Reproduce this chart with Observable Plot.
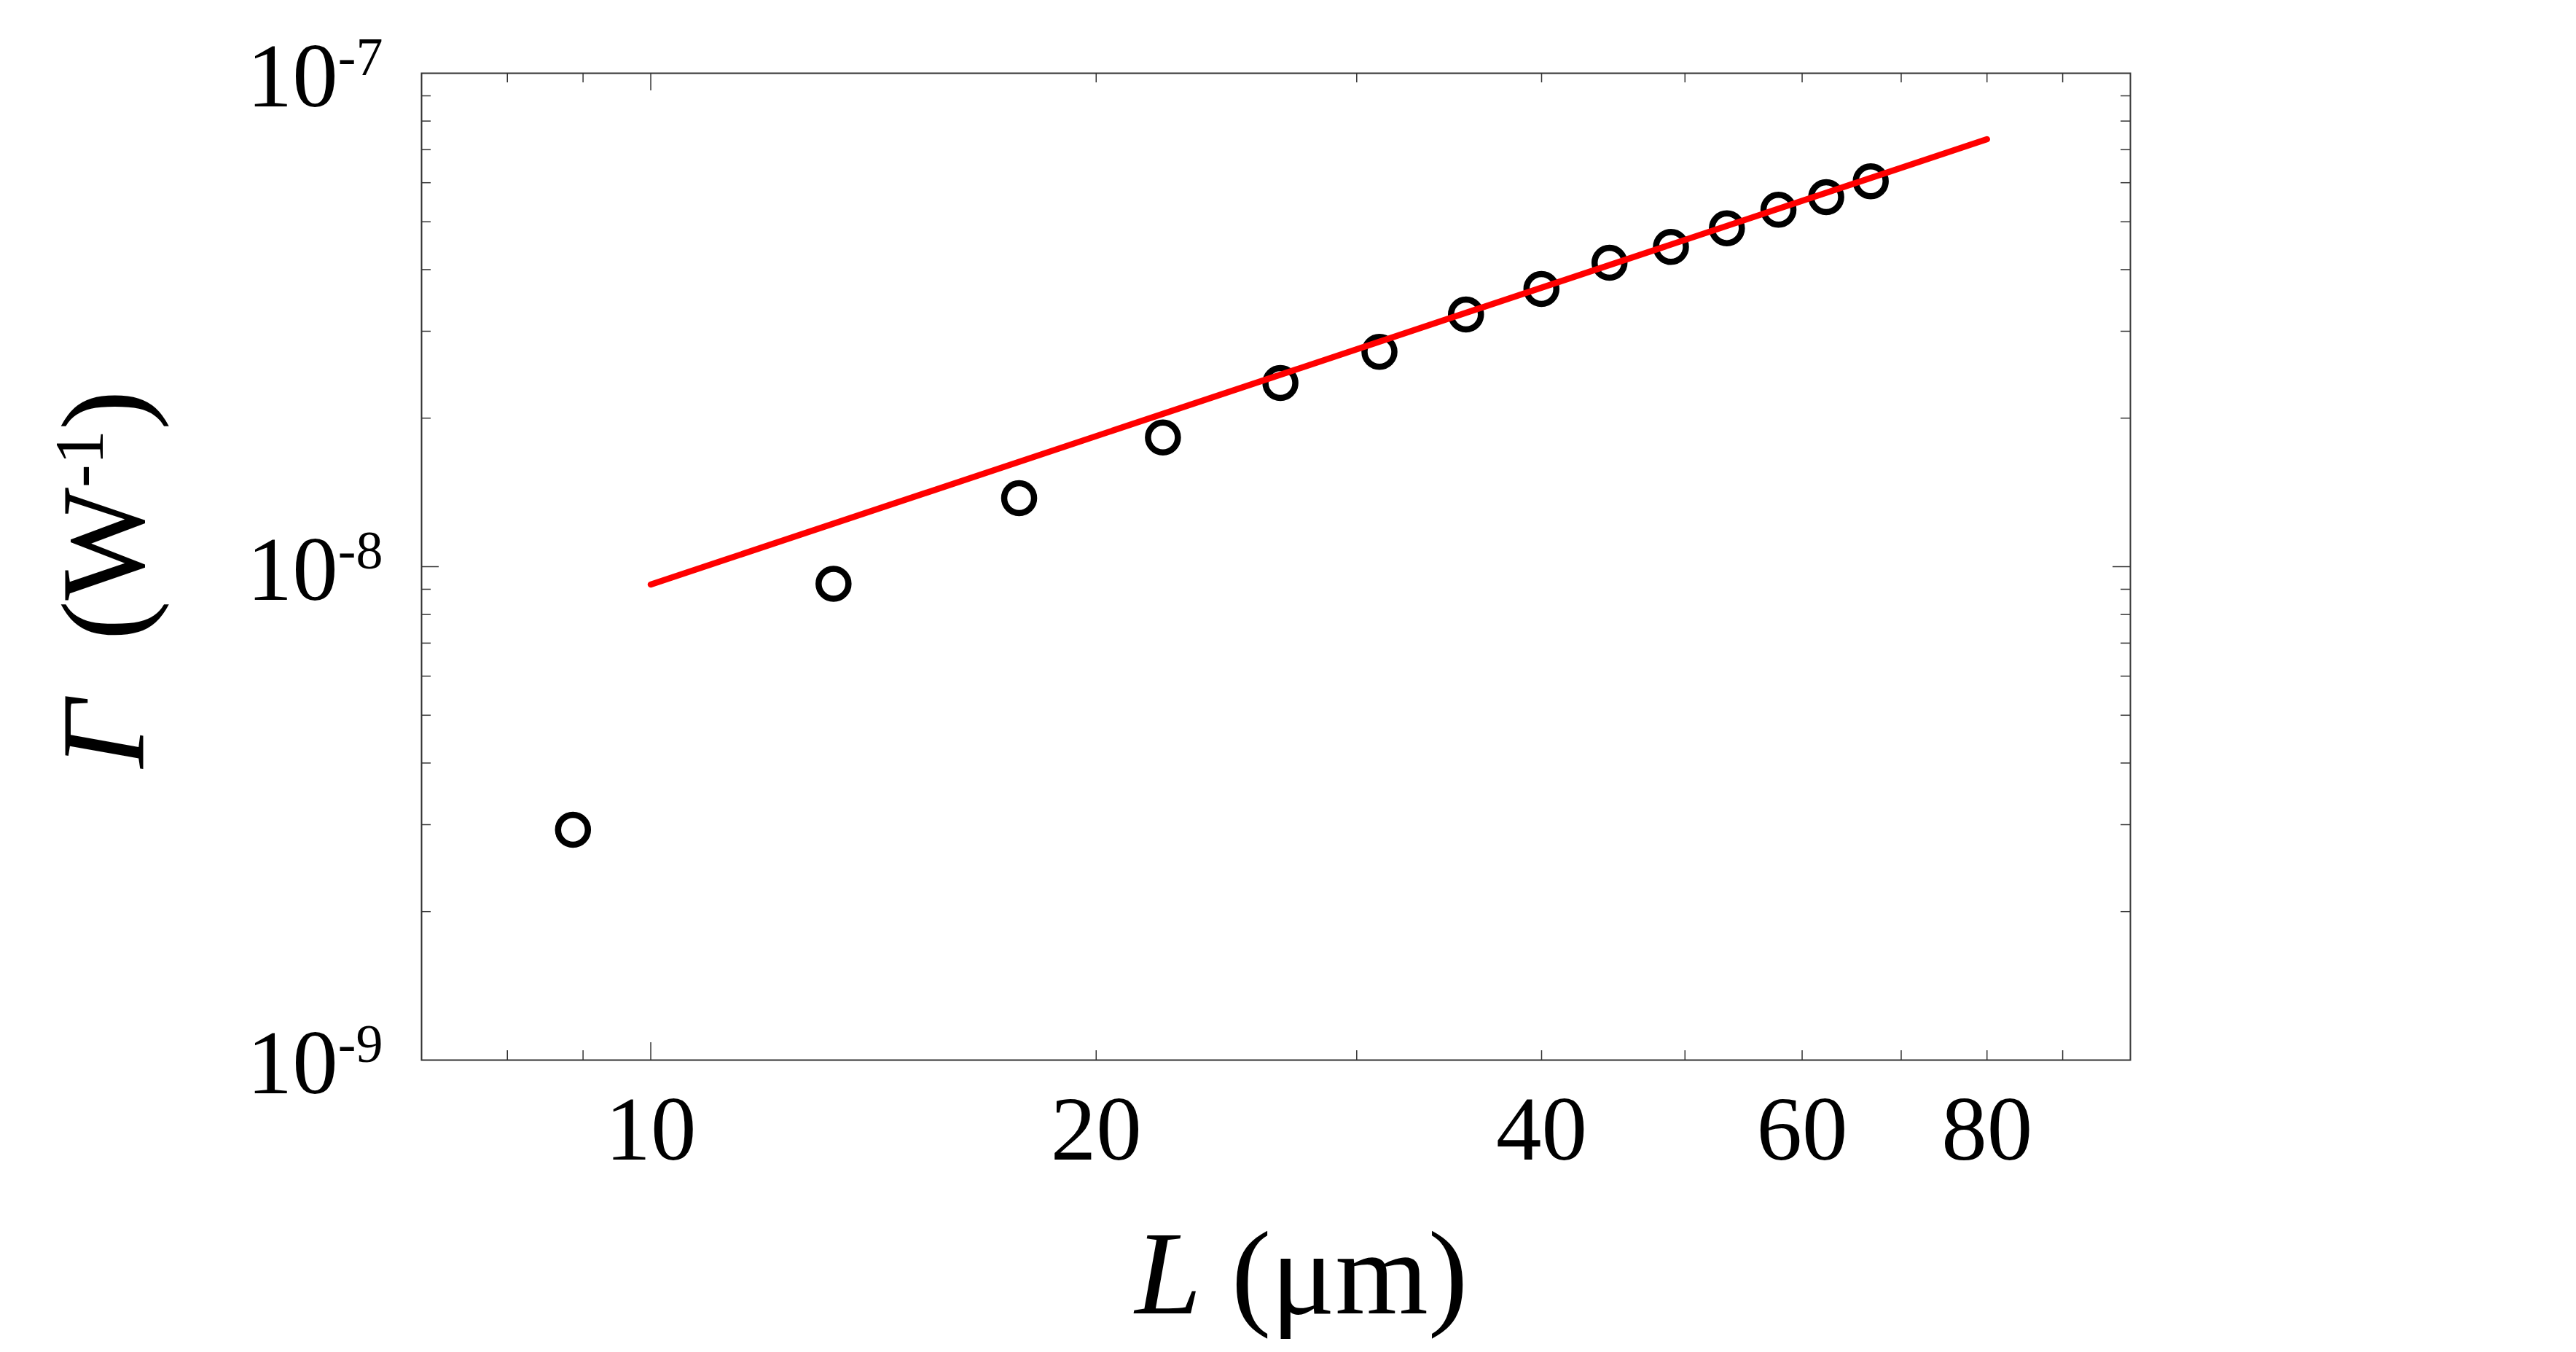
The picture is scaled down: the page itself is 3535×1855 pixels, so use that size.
<!DOCTYPE html>
<html>
<head>
<meta charset="utf-8">
<script src="https://cdn.jsdelivr.net/npm/d3@7"></script>
<script src="https://cdn.jsdelivr.net/npm/@observablehq/plot@0.6"></script>
<style>
  html, body { margin: 0; padding: 0; background: #fff; overflow: hidden; }
</style>
</head>
<body>
<div id="chart"></div>
<script>
// ---- data ----
const L_um = [8.86, 13.29, 17.74, 22.19, 26.64, 31.08, 35.56, 39.99, 44.46, 48.92, 53.37, 57.83, 62.29, 66.76];
const gammaW = [2.93e-9, 9.23e-9, 1.377e-8, 1.828e-8, 2.357e-8, 2.724e-8, 3.244e-8, 3.655e-8, 4.13e-8, 4.446e-8, 4.852e-8, 5.29e-8, 5.61e-8, 6.04e-8];
const fitL = [10, 80];
const fitGamma = [9.2e-9, 7.35e-8];

const xTickLabels = [10, 20, 40, 60, 80];
const xMajorTicks = [10];
const xMinorTicks = [8, 9, 20, 30, 40, 50, 60, 70, 80, 90];
const yTickLabels = [1e-9, 1e-8, 1e-7];
const yMajorTicks = [1e-8];
const yMinorTicks = [2e-9, 3e-9, 4e-9, 5e-9, 6e-9, 7e-9, 8e-9, 9e-9, 2e-8, 3e-8, 4e-8, 5e-8, 6e-8, 7e-8, 8e-8, 9e-8];

const xLabelParts = [{t: "L", italic: true}, {t: "\u00A0(\u03BCm)"}];
const yLabelParts = [{t: "\u0393", italic: true}, {t: "\u00A0\u00A0(W"}, {t: "-1", sup: true}, {t: ")"}];

// ---- layout ----
const W = 3535, H = 1855;
const mL = 578, mR = W - 2923, mT = 100, mB = H - 1454;
const frameW = W - mL - mR, frameH = H - mT - mB;
const FONT = "'Liberation Serif', 'Times New Roman', serif";
const ink = "#333";

const points = L_um.map((l, i) => ({l, g: gammaW[i]}));
const fit = fitL.map((l, i) => ({l, g: fitGamma[i]}));
const plain = parts => parts.map(p => p.t).join("");
const yTickParts = v => [{t: "10"}, {t: String(Math.round(Math.log10(v))), sup: true}];

const minorLen = 13, majorLen = 24;

const chart = Plot.plot({
  width: W, height: H,
  marginLeft: mL, marginRight: mR, marginTop: mT, marginBottom: mB,
  style: {fontFamily: FONT, background: "#fff", overflow: "visible"},
  x: {type: "log", domain: [7, 100], axis: null},
  y: {type: "log", domain: [1e-9, 1e-7], axis: null},
  marks: [
    // ticks (inward, all four sides)
    Plot.tickX(xMinorTicks, {x: d => d, insetTop: frameH - minorLen, stroke: ink, strokeWidth: 1.5}),
    Plot.tickX(xMinorTicks, {x: d => d, insetBottom: frameH - minorLen, stroke: ink, strokeWidth: 1.5}),
    Plot.tickX(xMajorTicks, {x: d => d, insetTop: frameH - majorLen, stroke: ink, strokeWidth: 1.5}),
    Plot.tickX(xMajorTicks, {x: d => d, insetBottom: frameH - majorLen, stroke: ink, strokeWidth: 1.5}),
    Plot.tickY(yMinorTicks, {y: d => d, insetRight: frameW - minorLen, stroke: ink, strokeWidth: 1.5}),
    Plot.tickY(yMinorTicks, {y: d => d, insetLeft: frameW - minorLen, stroke: ink, strokeWidth: 1.5}),
    Plot.tickY(yMajorTicks, {y: d => d, insetRight: frameW - majorLen, stroke: ink, strokeWidth: 1.5}),
    Plot.tickY(yMajorTicks, {y: d => d, insetLeft: frameW - majorLen, stroke: ink, strokeWidth: 1.5}),
    Plot.frame({stroke: ink, strokeWidth: 2}),
    // data
    Plot.dot(points, {x: "l", y: "g", r: 20.5, fill: "none", stroke: "#000", strokeWidth: 8.5}),
    Plot.line(fit, {x: "l", y: "g", stroke: "#ff0000", strokeWidth: 8.5}),
    // tick labels
    Plot.text(xTickLabels, {x: d => d, frameAnchor: "bottom", text: d => String(d),
      fontSize: 125, lineAnchor: "top", dy: 48, fill: "#000"}),
    Plot.text(yTickLabels, {y: d => d, frameAnchor: "left", text: d => plain(yTickParts(d)),
      fontSize: 125, textAnchor: "end", lineAnchor: "middle", dx: -53, dy: 5, fill: "#000"}),
    // axis labels
    Plot.text([plain(xLabelParts)], {frameAnchor: "bottom", text: d => d, fontSize: 164,
      lineAnchor: "middle", dx: 35, dy: 295, fill: "#000"}),
    Plot.text([plain(yLabelParts)], {frameAnchor: "left", text: d => d, fontSize: 164,
      rotate: -90, lineAnchor: "middle", textAnchor: "middle", dx: -434, dy: 17, fill: "#000"})
  ]
});

// rich text: italics and superscripts as tspans (text stays real text)
const SVGNS = "http://www.w3.org/2000/svg";
function richify(root, parts, supSize, supShift) {
  const target = plain(parts);
  root.querySelectorAll("text").forEach(t => {
    if (t.textContent !== target) return;
    t.textContent = "";
    let shift = 0;
    for (const p of parts) {
      const s = document.createElementNS(SVGNS, "tspan");
      s.textContent = p.t;
      if (p.italic) s.setAttribute("font-style", "italic");
      const want = p.sup ? -supShift : 0;
      if (want !== shift) { s.setAttribute("dy", String(want - shift)); shift = want; }
      if (p.sup) s.setAttribute("font-size", String(supSize));
      t.appendChild(s);
    }
  });
}
yTickLabels.forEach(v => richify(chart, yTickParts(v), 74, 43));
richify(chart, xLabelParts, 95, 56);
richify(chart, yLabelParts, 95, 56);

document.getElementById("chart").appendChild(chart);
</script>
</body>
</html>
